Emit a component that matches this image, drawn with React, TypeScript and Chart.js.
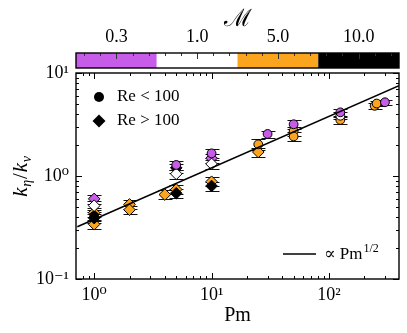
import React, { useEffect, useRef } from 'react';
import { Chart, registerables } from 'chart.js';

Chart.register(...registerables);

const SERIF = "'Liberation Serif', 'DejaVu Serif', serif";

// Colour bar (Mach number groups)
const MACH_LABELS = ['0.3', '1.0', '5.0', '10.0'];
const MACH_COLORS = ['#c75ce9', '#ffffff', '#fba51e', '#000000'];
const MACH_TITLE = 'ℳ';

// Axis ranges
const X_MIN = 0.718;
const X_MAX = 395;
const Y_MIN = 0.1;
const Y_MAX = 10;

// Fit line  ∝ Pm^{1/2}
const FIT_PM = [0.718, 395];
const FIT_K = [0.322, 7.55];

// Re > 100 (diamonds)
const diaPm_M03 = [1, 10];
const diaK_M03 = [0.6, 1.49];
const diaE_M03 = [0.1, 0.1];
const diaPm_M10 = [1, 5, 10];
const diaK_M10 = [0.515, 1.05, 1.31];
const diaE_M10 = [0.1, 0.1, 0.1];
const diaPm_M50 = [1, 1, 2, 2, 4, 5, 10, 25];
const diaK_M50 = [0.44, 0.34, 0.53, 0.47, 0.66, 0.74, 0.88, 1.71];
const diaE_M50 = [0.1, 0.1, 0.1, 0.1, 0.1, 0.1, 0.1, 0.1];
const diaPm_M100 = [1, 5, 5, 10];
const diaK_M100 = [0.39, 1.2, 0.68, 0.8];
const diaE_M100 = [0.1, 0.1, 0.1, 0.1];

// Re < 100 (circles)
const cirPm_M50 = [25, 50, 50, 125, 245, 255];
const cirK_M50 = [2.03, 2.73, 2.42, 3.5, 4.8, 5.05];
const cirE_M50 = [0.12, 0.1, 0.1, 0.08, 0.06, 0.06];
const cirPm_M10 = [125];
const cirK_M10 = [3.85];
const cirE_M10 = [0.08];
const cirPm_M03 = [5, 10, 30, 50, 125, 300];
const cirK_M03 = [1.28, 1.66, 2.56, 3.18, 4.15, 5.2];
const cirE_M03 = [0.1, 0.1, 0.08, 0.1, 0.08, 0.06];
const cirPm_M100 = [1];
const cirK_M100 = [0.41];
const cirE_M100 = [0.1];

const LEGEND_LABELS = ['Re < 100', 'Re > 100'];
const FIT_LABEL = '∝ Pm';
const FIT_EXP = '1/2';

type Group = { pm: number[]; k: number[]; err: number[]; color: string; style: string };

// listed bottom-first (drawing order)
const GROUPS: Group[] = [
  { pm: diaPm_M50, k: diaK_M50, err: diaE_M50, color: MACH_COLORS[2], style: 'rectRot' },
  { pm: diaPm_M100, k: diaK_M100, err: diaE_M100, color: MACH_COLORS[3], style: 'rectRot' },
  { pm: diaPm_M03, k: diaK_M03, err: diaE_M03, color: MACH_COLORS[0], style: 'rectRot' },
  { pm: diaPm_M10, k: diaK_M10, err: diaE_M10, color: MACH_COLORS[1], style: 'rectRot' },
  { pm: cirPm_M50, k: cirK_M50, err: cirE_M50, color: MACH_COLORS[2], style: 'circle' },
  { pm: cirPm_M10, k: cirK_M10, err: cirE_M10, color: MACH_COLORS[1], style: 'circle' },
  { pm: cirPm_M03, k: cirK_M03, err: cirE_M03, color: MACH_COLORS[0], style: 'circle' },
  { pm: cirPm_M100, k: cirK_M100, err: cirE_M100, color: MACH_COLORS[3], style: 'circle' },
];

const SUP: Record<string, string> = { '0': '⁰', '1': '¹', '2': '²', '3': '³', '-': '⁻' };
const supLabel = (v: number) => {
  const l = Math.log10(v);
  if (Math.abs(l - Math.round(l)) > 1e-6) return '';
  const e = String(Math.round(l));
  return '10' + e.split('').map((c) => SUP[c] || c).join('');
};

const isDecadeMultiple = (v: number) => {
  const e = Math.floor(Math.log10(v) + 1e-9);
  const s = v / Math.pow(10, e);
  return Math.abs(s - Math.round(s)) < 1e-6 ? Math.round(s) : 0;
};

const errorBarPlugin = {
  id: 'errorBars',
  beforeDatasetsDraw(chart: any) {
    const { ctx } = chart;
    const xs = chart.scales.x;
    const ys = chart.scales.y;
    ctx.save();
    ctx.strokeStyle = '#111';
    ctx.lineWidth = 1;
    GROUPS.forEach((g) => {
      g.pm.forEach((p, i) => {
        const x = Math.round(xs.getPixelForValue(p)) + 0.5;
        const yl = Math.round(ys.getPixelForValue(g.k[i] * (1 - g.err[i]))) + 0.5;
        const yh = Math.round(ys.getPixelForValue(g.k[i] * (1 + g.err[i]))) + 0.5;
        ctx.beginPath();
        ctx.moveTo(x, yl);
        ctx.lineTo(x, yh);
        ctx.moveTo(x - 7, yl);
        ctx.lineTo(x + 7, yl);
        ctx.moveTo(x - 7, yh);
        ctx.lineTo(x + 7, yh);
        ctx.stroke();
      });
    });
    ctx.restore();
  },
};

const framePlugin = {
  id: 'frame',
  afterDraw(chart: any) {
    const { ctx, chartArea: a } = chart;
    const xs = chart.scales.x;
    const ys = chart.scales.y;
    ctx.save();
    ctx.strokeStyle = '#000';
    ctx.lineWidth = 1;
    // inward ticks on all sides
    xs.ticks.forEach((t: any) => {
      const v = t.value;
      if (v < X_MIN || v > X_MAX) return;
      const m = isDecadeMultiple(v);
      if (!m) return;
      const len = m === 1 ? 6 : 3;
      const x = Math.round(xs.getPixelForValue(v)) + 0.5;
      ctx.beginPath();
      ctx.moveTo(x, a.bottom);
      ctx.lineTo(x, a.bottom - len);
      ctx.moveTo(x, a.top);
      ctx.lineTo(x, a.top + len);
      ctx.stroke();
    });
    ys.ticks.forEach((t: any) => {
      const v = t.value;
      if (v < Y_MIN || v > Y_MAX) return;
      const m = isDecadeMultiple(v);
      if (!m) return;
      const len = m === 1 ? 6 : 3;
      const y = Math.round(ys.getPixelForValue(v)) + 0.5;
      ctx.beginPath();
      ctx.moveTo(a.left, y);
      ctx.lineTo(a.left + len, y);
      ctx.moveTo(a.right, y);
      ctx.lineTo(a.right - len, y);
      ctx.stroke();
    });
    ctx.lineWidth = 1.4;
    ctx.strokeRect(a.left, a.top, a.right - a.left, a.bottom - a.top);

    // colour bar
    const s = chart.scales.x2;
    const step = s.getPixelForValue(1) - s.getPixelForValue(0);
    const y0 = a.top - 20;
    const y1 = a.top - 5;
    MACH_LABELS.forEach((_, i) => {
      const xl = s.getPixelForValue(i) - step / 2;
      ctx.fillStyle = MACH_COLORS[i];
      ctx.fillRect(xl, y0, step, y1 - y0);
    });
    ctx.lineWidth = 1;
    ctx.strokeStyle = '#333';
    MACH_LABELS.forEach((_, i) => {
      const xl = s.getPixelForValue(i) - step / 2;
      [0.1, 0.3, 0.5, 0.7, 0.9].forEach((f) => {
        const x = Math.round(xl + f * step) + 0.5;
        ctx.beginPath();
        ctx.moveTo(x, y0);
        ctx.lineTo(x, y0 + (f === 0.5 ? 6 : 3));
        ctx.stroke();
      });
    });
    ctx.strokeStyle = '#000';
    ctx.lineWidth = 1.4;
    ctx.strokeRect(a.left, y0, a.right - a.left, y1 - y0);

    // y title k_eta / k_nu
    ctx.save();
    ctx.translate(20, (a.top + a.bottom) / 2);
    ctx.rotate(-Math.PI / 2);
    ctx.fillStyle = '#000';
    ctx.textBaseline = 'alphabetic';
    const parts = [
      { t: 'k', f: 'italic 21px ' + SERIF, dy: 0 },
      { t: 'η', f: 'italic 14px ' + SERIF, dy: 4 },
      { t: '/', f: '21px ' + SERIF, dy: 0 },
      { t: 'k', f: 'italic 21px ' + SERIF, dy: 0 },
      { t: 'ν', f: 'italic 14px ' + SERIF, dy: 4 },
    ];
    let w = 0;
    parts.forEach((p) => {
      ctx.font = p.f;
      w += ctx.measureText(p.t).width + 0.8;
    });
    let cx = -w / 2;
    parts.forEach((p) => {
      ctx.font = p.f;
      ctx.fillText(p.t, cx, 7 + p.dy);
      cx += ctx.measureText(p.t).width + 0.8;
    });
    ctx.restore();

    // legend (markers)
    ctx.fillStyle = '#000';
    ctx.beginPath();
    ctx.arc(99, 97, 5, 0, Math.PI * 2);
    ctx.fill();
    ctx.beginPath();
    ctx.moveTo(99 - 6.5, 121);
    ctx.lineTo(99, 121 - 6.5);
    ctx.lineTo(99 + 6.5, 121);
    ctx.lineTo(99, 121 + 6.5);
    ctx.closePath();
    ctx.fill();
    ctx.font = '17px ' + SERIF;
    ctx.textBaseline = 'middle';
    ctx.textAlign = 'left';
    ctx.fillText(LEGEND_LABELS[0], 117, 97);
    ctx.fillText(LEGEND_LABELS[1], 117, 121);

    // fit legend
    ctx.lineWidth = 1.5;
    ctx.beginPath();
    ctx.moveTo(283, 254);
    ctx.lineTo(316, 254);
    ctx.stroke();
    ctx.font = '17px ' + SERIF;
    ctx.textBaseline = 'alphabetic';
    ctx.fillText(FIT_LABEL, 324, 259);
    const fw = ctx.measureText(FIT_LABEL).width;
    ctx.font = '12px ' + SERIF;
    ctx.fillText(FIT_EXP, 324 + fw + 1, 252);
    ctx.restore();
  },
};

export default function App() {
  const ref = useRef<HTMLCanvasElement | null>(null);
  useEffect(() => {
    document.body.style.margin = '0';
    if (!ref.current) return;
    Chart.defaults.color = '#000';
    const datasets: any[] = GROUPS.map((g) => ({
      type: 'scatter',
      data: g.pm.map((p, i) => ({ x: p, y: g.k[i] })),
      pointStyle: g.style,
      pointRadius: g.style === 'circle' ? 4.4 : 5.8,
      pointBackgroundColor: g.color,
      pointBorderColor: '#000',
      pointBorderWidth: 1,
      xAxisID: 'x',
      yAxisID: 'y',
    }));
    datasets.push({
      type: 'line',
      data: FIT_PM.map((p, i) => ({ x: p, y: FIT_K[i] })),
      borderColor: '#000',
      borderWidth: 1.5,
      pointRadius: 0,
      fill: false,
      xAxisID: 'x',
      yAxisID: 'y',
    });
    const n = datasets.length;
    // first listed drawn at the bottom, fit line on top
    datasets.forEach((d, i) => (d.order = n - i));

    const chart = new Chart(ref.current, {
      type: 'scatter',
      data: { datasets },
      options: {
        animation: false,
        responsive: false,
        layout: { padding: { left: 0, right: 8, top: 0, bottom: 0 } },
        plugins: { legend: { display: false }, tooltip: { enabled: false } },
        scales: {
          x: {
            type: 'logarithmic',
            position: 'bottom',
            min: X_MIN,
            max: X_MAX,
            grid: { display: false, drawTicks: false },
            border: { display: false },
            ticks: {
              autoSkip: false,
              maxRotation: 0,
              padding: 5,
              font: { family: SERIF, size: 18 },
              callback: (v: any) => supLabel(Number(v)),
            },
            title: {
              display: true,
              text: 'Pm',
              font: { family: SERIF, size: 20 },
              padding: { top: 0, bottom: 5 },
            },
            afterFit: (s: any) => {
              s.height = 54;
            },
          },
          x2: {
            type: 'category',
            position: 'top',
            labels: MACH_LABELS,
            offset: true,
            grid: { display: true, drawOnChartArea: false, drawTicks: true, tickLength: 21, color: 'rgba(0,0,0,0)' },
            border: { display: false },
            ticks: { padding: 4, font: { family: SERIF, size: 18 }, maxRotation: 0 },
            title: {
              display: true,
              text: MACH_TITLE,
              font: { family: SERIF, size: 24 },
              padding: { top: 5, bottom: 0 },
            },
            afterFit: (s: any) => {
              s.height = 73;
            },
          },
          y: {
            type: 'logarithmic',
            position: 'left',
            min: Y_MIN,
            max: Y_MAX,
            grid: { display: false, drawTicks: false },
            border: { display: false },
            ticks: {
              autoSkip: false,
              padding: 7,
              font: { family: SERIF, size: 18 },
              callback: (v: any) => supLabel(Number(v)),
            },
            afterFit: (s: any) => {
              s.width = 76;
            },
          },
        },
      },
      plugins: [errorBarPlugin, framePlugin],
    } as any);
    return () => chart.destroy();
  }, []);
  return (
    <div style={{ width: 407, height: 333 }}>
      <canvas ref={ref} width={407} height={333} style={{ display: 'block' }} />
    </div>
  );
}
